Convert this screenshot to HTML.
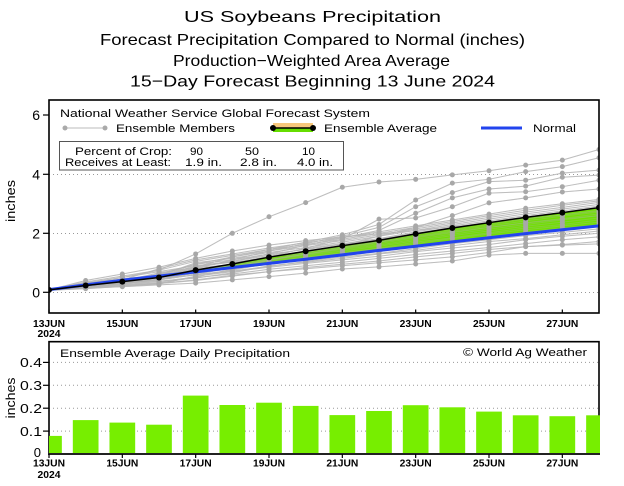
<!DOCTYPE html>
<html><head><meta charset="utf-8">
<style>html,body{margin:0;padding:0;background:#fff}svg{display:block}text{font-family:"Liberation Sans",sans-serif;fill:#000}</style>
</head>
<body>
<svg width="624" height="486" viewBox="0 0 624 486" xmlns="http://www.w3.org/2000/svg" xmlns:xlink="http://www.w3.org/1999/xlink">
<rect width="624" height="486" fill="#fff"/>
<defs>
<clipPath id="cp"><rect x="49" y="100" width="550" height="213"/></clipPath>
<marker id="gd" markerUnits="userSpaceOnUse" markerWidth="0.2" markerHeight="0.3" refX="0.1" refY="0.15" overflow="visible">
<ellipse cx="0.1" cy="0.15" rx="0.0682" ry="0.0847" fill="#a8a8a8"/>
</marker>
<marker id="bd" markerUnits="userSpaceOnUse" markerWidth="0.2" markerHeight="0.3" refX="0.1" refY="0.15" overflow="visible">
<ellipse cx="0.1" cy="0.15" rx="0.0818" ry="0.1017" fill="#000"/>
</marker>
</defs>
<!-- Titles -->
<text x="184" y="22" font-size="16" textLength="257" lengthAdjust="spacingAndGlyphs">US Soybeans Precipitation</text>
<text x="100" y="45" font-size="16" textLength="425" lengthAdjust="spacingAndGlyphs">Forecast Precipitation Compared to Normal (inches)</text>
<text x="173" y="66" font-size="16" textLength="277" lengthAdjust="spacingAndGlyphs">Production−Weighted Area Average</text>
<text x="130" y="86.5" font-size="16" textLength="365" lengthAdjust="spacingAndGlyphs">15−Day Forecast Beginning 13 June 2024</text>

<!-- top chart grid -->
<g stroke="#999" stroke-width="1" stroke-dasharray="1,3">
<line x1="49" y1="292.5" x2="599" y2="292.5"/>
<line x1="49" y1="233.5" x2="599" y2="233.5"/>
<line x1="49" y1="174.5" x2="599" y2="174.5"/>
</g>

<g clip-path="url(#cp)">
<g transform="matrix(36.667,0,0,-29.5,49,292.3)">
<!-- member lines -->
<g fill="none" stroke="#c4c4c4" stroke-width="1">
<g id="ml">
<polyline vector-effect="non-scaling-stroke" points="0,0.08 1,0.3 2,0.5 3,0.75 4,1.3 5,2.0 6,2.56 7,3.04 8,3.56 9,3.74 10,3.83 11,3.98 12,4.12 13,4.31 14,4.48 15,4.84"/>
<polyline vector-effect="non-scaling-stroke" points="0,0.08 1,0.25 2,0.4 3,0.6 4,0.95 5,1.2 6,1.45 7,1.7 8,1.95 9,2.3 10,3.13 11,3.7 12,3.83 13,4.09 14,4.26 15,4.56"/>
<polyline vector-effect="non-scaling-stroke" points="0,0.08 1,0.2 2,0.35 3,0.5 4,0.8 5,1.1 6,1.4 7,1.65 8,1.9 9,2.2 10,2.9 11,3.38 12,3.75 13,3.8 14,4.04 15,4.14"/>
<polyline vector-effect="non-scaling-stroke" points="0,0.08 1,0.22 2,0.38 3,0.55 4,0.85 5,1.05 6,1.3 7,1.6 8,1.85 9,2.1 10,2.68 11,3.2 12,3.5 13,3.6 14,3.9 15,3.97"/>
<polyline vector-effect="non-scaling-stroke" points="0,0.08 1,0.2 2,0.32 3,0.45 4,0.7 5,0.95 6,1.2 7,1.5 8,1.8 9,2.48 10,2.52 11,2.9 12,3.36 13,3.41 14,3.58 15,3.8"/>
<polyline vector-effect="non-scaling-stroke" points="0,0.08 1,0.18 2,0.3 3,0.42 4,0.6 5,0.85 6,1.1 7,1.35 8,1.6 9,1.9 10,2.2 11,2.6 12,3.03 13,3.2 14,3.4 15,3.5"/>
<polyline vector-effect="non-scaling-stroke" points="0,0.07 1,0.14 2,0.19 3,0.25 4,0.31 5,0.42 6,0.53 7,0.65 8,0.79 9,0.86 10,0.96 11,1.06 12,1.26 13,1.32 14,1.32 15,1.32"/>
<polyline vector-effect="non-scaling-stroke" points="0,0.08 1,0.16 2,0.22 3,0.3 4,0.4 5,0.55 6,0.7 7,0.8 8,0.9 9,1.0 10,1.1 11,1.2 12,1.35 13,1.55 14,1.6 15,1.64"/>
<polyline vector-effect="non-scaling-stroke" points="0,0.07 1,0.14 2,0.22 3,0.3 4,0.42 5,0.58 6,0.7 7,0.84 8,0.95 9,1.06 10,1.2 11,1.32 12,1.45 13,1.55 14,1.62 15,1.72"/>
<polyline vector-effect="non-scaling-stroke" points="0,0.08 1,0.18 2,0.25 3,0.32 4,0.5 5,0.62 6,0.78 7,0.9 8,1.02 9,1.15 10,1.28 11,1.4 12,1.52 13,1.65 14,1.78 15,1.88"/>
<polyline vector-effect="non-scaling-stroke" points="0,0.07 1,0.12 2,0.2 3,0.28 4,0.55 5,0.7 6,0.85 7,0.98 8,1.1 9,1.22 10,1.38 11,1.5 12,1.62 13,1.78 14,1.9 15,2.0"/>
<polyline vector-effect="non-scaling-stroke" points="0,0.09 1,0.2 2,0.3 3,0.38 4,0.48 5,0.66 6,0.9 7,1.02 8,1.15 9,1.3 10,1.42 11,1.58 12,1.72 13,1.82 14,1.95 15,2.08"/>
<polyline vector-effect="non-scaling-stroke" points="0,0.08 1,0.22 2,0.34 3,0.42 4,0.6 5,0.72 6,0.88 7,1.05 8,1.2 9,1.32 10,1.48 11,1.65 12,1.78 13,1.92 14,2.03 15,2.15"/>
<polyline vector-effect="non-scaling-stroke" points="0,0.07 1,0.17 2,0.28 3,0.45 4,0.65 5,0.8 6,0.95 7,1.1 8,1.24 9,1.38 10,1.55 11,1.7 12,1.85 13,2.0 14,2.1 15,2.25"/>
<polyline vector-effect="non-scaling-stroke" points="0,0.08 1,0.25 2,0.38 3,0.48 4,0.58 5,0.75 6,0.98 7,1.12 8,1.28 9,1.42 10,1.6 11,1.75 12,1.9 13,2.05 14,2.18 15,2.3"/>
<polyline vector-effect="non-scaling-stroke" points="0,0.08 1,0.2 2,0.32 3,0.5 4,0.7 5,0.85 6,1.0 7,1.18 8,1.32 9,1.48 10,1.65 11,1.82 12,1.98 13,2.12 14,2.25 15,2.38"/>
<polyline vector-effect="non-scaling-stroke" points="0,0.09 1,0.28 2,0.42 3,0.55 4,0.78 5,0.9 6,1.05 7,1.2 8,1.35 9,1.5 10,1.7 11,1.85 12,2.02 13,2.18 14,2.3 15,2.45"/>
<polyline vector-effect="non-scaling-stroke" points="0,0.07 1,0.15 2,0.3 3,0.42 4,0.68 5,0.88 6,1.08 7,1.25 8,1.4 9,1.56 10,1.75 11,1.92 12,2.08 13,2.24 14,2.38 15,2.52"/>
<polyline vector-effect="non-scaling-stroke" points="0,0.08 1,0.24 2,0.36 3,0.52 4,0.82 5,0.95 6,1.12 7,1.28 8,1.45 9,1.6 10,1.8 11,1.97 12,2.14 13,2.3 14,2.45 15,2.6"/>
<polyline vector-effect="non-scaling-stroke" points="0,0.08 1,0.3 2,0.45 3,0.6 4,0.72 5,0.92 6,1.1 7,1.3 8,1.48 9,1.65 10,1.85 11,2.02 12,2.2 13,2.36 14,2.5 15,2.66"/>
<polyline vector-effect="non-scaling-stroke" points="0,0.09 1,0.21 2,0.35 3,0.58 4,0.88 5,1.02 6,1.18 7,1.35 8,1.52 9,1.7 10,1.9 11,2.08 12,2.25 13,2.42 14,2.58 15,2.72"/>
<polyline vector-effect="non-scaling-stroke" points="0,0.08 1,0.26 2,0.4 3,0.5 4,0.64 5,0.98 6,1.22 7,1.38 8,1.55 9,1.72 10,1.95 11,2.12 12,2.3 13,2.48 14,2.63 15,2.78"/>
<polyline vector-effect="non-scaling-stroke" points="0,0.07 1,0.19 2,0.33 3,0.62 4,0.95 5,1.1 6,1.3 7,1.45 8,1.62 9,1.8 10,2.0 11,2.2 12,2.38 13,2.55 14,2.7 15,2.85"/>
<polyline vector-effect="non-scaling-stroke" points="0,0.08 1,0.32 2,0.5 3,0.7 4,0.9 5,1.05 6,1.25 7,1.48 8,1.65 9,1.82 10,2.05 11,2.25 12,2.42 13,2.6 14,2.76 15,2.92"/>
<polyline vector-effect="non-scaling-stroke" points="0,0.09 1,0.27 2,0.44 3,0.56 4,1.0 5,1.15 6,1.35 7,1.52 8,1.7 9,1.9 10,2.1 11,2.3 12,2.48 13,2.66 14,2.82 15,2.98"/>
<polyline vector-effect="non-scaling-stroke" points="0,0.08 1,0.22 2,0.38 3,0.66 4,0.85 5,1.2 6,1.4 7,1.58 8,1.75 9,1.95 10,2.15 11,2.35 12,2.54 13,2.72 14,2.88 15,3.05"/>
<polyline vector-effect="non-scaling-stroke" points="0,0.08 1,0.35 2,0.55 3,0.75 4,1.05 5,1.25 6,1.45 7,1.62 8,1.8 9,2.0 10,2.2 11,2.4 12,2.6 13,2.78 14,2.95 15,3.1"/>
<polyline vector-effect="non-scaling-stroke" points="0,0.07 1,0.24 2,0.42 3,0.8 4,1.1 5,1.3 6,1.5 7,1.68 8,1.85 9,2.05 10,2.25 11,2.45 12,2.65 13,2.85 14,3.0 15,3.15"/>
<polyline vector-effect="non-scaling-stroke" points="0,0.08 1,0.4 2,0.62 3,0.85 4,1.15 5,1.4 6,1.6 7,1.75 8,1.88 9,1.98 10,2.1 11,2.22 12,2.35 13,2.5 14,2.62 15,2.75"/>
<polyline vector-effect="non-scaling-stroke" points="0,0.08 1,0.16 2,0.26 3,0.36 4,0.52 5,0.78 6,1.08 7,1.3 8,1.5 9,1.7 10,1.88 11,2.05 12,2.2 13,2.35 14,2.48 15,2.6"/>
</g>
</g>
<!-- fill between avg and normal -->
<polygon fill="#70e000" points="0,0.08 1,0.23 2,0.36 3,0.5 4,0.75 5,0.96 6,1.19 7,1.39 8,1.58 9,1.76 10,1.98 11,2.18 12,2.36 13,2.54 14,2.70 15,2.87 15,2.25 14,2.12 13,1.99 12,1.85 11,1.71 10,1.56 9,1.42 8,1.27 7,1.12 6,0.98 5,0.84 4,0.69 3,0.55 2,0.41 1,0.25 0,0.09"/>
<!-- faint lines over fill -->
<use href="#ml" xlink:href="#ml" fill="none" stroke="#b0b0b0" stroke-width="1" stroke-opacity="0.3"/>
<!-- member dots -->
<use href="#ml" xlink:href="#ml" fill="none" stroke="none" marker-start="url(#gd)" marker-mid="url(#gd)" marker-end="url(#gd)"/>
<!-- normal -->
<polyline fill="none" stroke="#2244ee" stroke-width="3" vector-effect="non-scaling-stroke" points="0,0.09 1,0.25 2,0.41 3,0.55 4,0.69 5,0.84 6,0.98 7,1.12 8,1.27 9,1.42 10,1.56 11,1.71 12,1.85 13,1.99 14,2.12 15,2.25"/>
<!-- average -->
<polyline fill="none" stroke="#000" stroke-width="1.5" vector-effect="non-scaling-stroke" marker-start="url(#bd)" marker-mid="url(#bd)" marker-end="url(#bd)" points="0,0.08 1,0.23 2,0.36 3,0.5 4,0.75 5,0.96 6,1.19 7,1.39 8,1.58 9,1.76 10,1.98 11,2.18 12,2.36 13,2.54 14,2.70 15,2.87"/>
</g>
</g>

<!-- top frame -->
<rect x="49" y="100" width="550" height="213" fill="none" stroke="#000" stroke-width="1.6"/>
<g stroke="#000" stroke-width="1.2">
<line x1="43" y1="115" x2="49" y2="115"/>
<line x1="43" y1="174.3" x2="49" y2="174.3"/>
<line x1="43" y1="233.3" x2="49" y2="233.3"/>
<line x1="43" y1="292.3" x2="49" y2="292.3"/>
<line x1="49" y1="309.5" x2="49" y2="313"/>
<line x1="122.33" y1="309.5" x2="122.33" y2="313"/>
<line x1="195.67" y1="309.5" x2="195.67" y2="313"/>
<line x1="269" y1="309.5" x2="269" y2="313"/>
<line x1="342.33" y1="309.5" x2="342.33" y2="313"/>
<line x1="415.67" y1="309.5" x2="415.67" y2="313"/>
<line x1="489" y1="309.5" x2="489" y2="313"/>
<line x1="562.33" y1="309.5" x2="562.33" y2="313"/>
</g>
<g font-size="14" text-anchor="end">
<text x="40" y="120">6</text>
<text x="40" y="179.3">4</text>
<text x="40" y="238.3">2</text>
<text x="40" y="297.3">0</text>
</g>
<text transform="translate(15,201) rotate(-90)" font-size="13" text-anchor="middle" textLength="42" lengthAdjust="spacingAndGlyphs">inches</text>

<!-- legend top -->
<text x="60" y="117" font-size="11" textLength="310" lengthAdjust="spacingAndGlyphs">National Weather Service Global Forecast System</text>
<line x1="65" y1="128" x2="105" y2="128" stroke="#bbb" stroke-width="1"/>
<circle cx="65" cy="128" r="2.5" fill="#aaa"/><circle cx="105" cy="128" r="2.5" fill="#aaa"/>
<text x="116" y="132" font-size="11" textLength="119" lengthAdjust="spacingAndGlyphs">Ensemble Members</text>
<rect x="273" y="123" width="40" height="5" fill="#f7c87c"/>
<rect x="273" y="128" width="40" height="4" fill="#66dd00"/>
<line x1="273" y1="128" x2="313" y2="128" stroke="#000" stroke-width="1.5"/>
<circle cx="273" cy="128" r="3" fill="#000"/><circle cx="313" cy="128" r="3" fill="#000"/>
<text x="324" y="132" font-size="11" textLength="113" lengthAdjust="spacingAndGlyphs">Ensemble Average</text>
<line x1="481" y1="128" x2="522" y2="128" stroke="#2244ee" stroke-width="3"/>
<text x="533" y="132" font-size="11" textLength="43" lengthAdjust="spacingAndGlyphs">Normal</text>

<rect x="59.5" y="141.5" width="284" height="28.5" fill="#fff" stroke="#555" stroke-width="1"/>
<g font-size="11">
<text x="75" y="155" textLength="97" lengthAdjust="spacingAndGlyphs">Percent of Crop:</text>
<text x="190" y="155" textLength="13" lengthAdjust="spacingAndGlyphs">90</text>
<text x="245" y="155" textLength="14" lengthAdjust="spacingAndGlyphs">50</text>
<text x="302" y="155" textLength="13" lengthAdjust="spacingAndGlyphs">10</text>
<text x="65" y="166" textLength="106" lengthAdjust="spacingAndGlyphs">Receives at Least:</text>
<text x="185" y="166" textLength="37" lengthAdjust="spacingAndGlyphs">1.9 in.</text>
<text x="240" y="166" textLength="37" lengthAdjust="spacingAndGlyphs">2.8 in.</text>
<text x="297" y="166" textLength="36" lengthAdjust="spacingAndGlyphs">4.0 in.</text>
</g>

<!-- x labels top -->
<g font-size="10.5" font-weight="bold" text-anchor="middle">
<text x="49" y="327" textLength="32" lengthAdjust="spacingAndGlyphs">13JUN</text>
<text x="122.33" y="327" textLength="32" lengthAdjust="spacingAndGlyphs">15JUN</text>
<text x="195.67" y="327" textLength="32" lengthAdjust="spacingAndGlyphs">17JUN</text>
<text x="269" y="327" textLength="32" lengthAdjust="spacingAndGlyphs">19JUN</text>
<text x="342.33" y="327" textLength="32" lengthAdjust="spacingAndGlyphs">21JUN</text>
<text x="415.67" y="327" textLength="32" lengthAdjust="spacingAndGlyphs">23JUN</text>
<text x="489" y="327" textLength="32" lengthAdjust="spacingAndGlyphs">25JUN</text>
<text x="562.33" y="327" textLength="32" lengthAdjust="spacingAndGlyphs">27JUN</text>
<text x="49" y="337" textLength="23" lengthAdjust="spacingAndGlyphs">2024</text>
</g>

<!-- bottom chart -->
<g stroke="#999" stroke-width="1" stroke-dasharray="1,3">
<line x1="49" y1="362.4" x2="599" y2="362.4"/>
<line x1="49" y1="385.3" x2="599" y2="385.3"/>
<line x1="49" y1="408.2" x2="599" y2="408.2"/>
<line x1="49" y1="431.1" x2="599" y2="431.1"/>
</g>
<path d="M49,454 L49,341.7 L599,341.7 L599,454" fill="none" stroke="#000" stroke-width="1.6"/>
<g fill="#77ee00">
<rect x="49" y="435.9" width="12.85" height="18.1"/>
<rect x="72.82" y="420.1" width="25.7" height="33.9"/>
<rect x="109.48" y="422.6" width="25.7" height="31.4"/>
<rect x="146.15" y="424.7" width="25.7" height="29.3"/>
<rect x="182.82" y="395.6" width="25.7" height="58.4"/>
<rect x="219.48" y="405.0" width="25.7" height="49.0"/>
<rect x="256.15" y="402.7" width="25.7" height="51.3"/>
<rect x="292.82" y="405.9" width="25.7" height="48.1"/>
<rect x="329.48" y="415.1" width="25.7" height="38.9"/>
<rect x="366.15" y="411.0" width="25.7" height="43.0"/>
<rect x="402.82" y="405.2" width="25.7" height="48.8"/>
<rect x="439.48" y="407.3" width="25.7" height="46.7"/>
<rect x="476.15" y="411.6" width="25.7" height="42.4"/>
<rect x="512.82" y="415.3" width="25.7" height="38.7"/>
<rect x="549.48" y="416.2" width="25.7" height="37.8"/>
<rect x="586.15" y="415.3" width="13.85" height="38.7"/>
</g>
<line x1="48" y1="454" x2="600" y2="454" stroke="#222" stroke-width="2"/>
<g stroke="#000" stroke-width="1.2">
<line x1="43" y1="362.4" x2="49" y2="362.4"/>
<line x1="43" y1="385.3" x2="49" y2="385.3"/>
<line x1="43" y1="408.2" x2="49" y2="408.2"/>
<line x1="43" y1="431.1" x2="49" y2="431.1"/>
<line x1="49" y1="454" x2="49" y2="458"/>
<line x1="122.33" y1="454" x2="122.33" y2="458"/>
<line x1="195.67" y1="454" x2="195.67" y2="458"/>
<line x1="269" y1="454" x2="269" y2="458"/>
<line x1="342.33" y1="454" x2="342.33" y2="458"/>
<line x1="415.67" y1="454" x2="415.67" y2="458"/>
<line x1="489" y1="454" x2="489" y2="458"/>
<line x1="562.33" y1="454" x2="562.33" y2="458"/>
</g>
<g font-size="13" text-anchor="end">
<text x="42" y="367" textLength="22" lengthAdjust="spacingAndGlyphs">0.4</text>
<text x="42" y="390" textLength="22" lengthAdjust="spacingAndGlyphs">0.3</text>
<text x="42" y="413" textLength="22" lengthAdjust="spacingAndGlyphs">0.2</text>
<text x="42" y="436" textLength="22" lengthAdjust="spacingAndGlyphs">0.1</text>
<text x="41" y="457">0</text>
</g>
<text transform="translate(15,398) rotate(-90)" font-size="13" text-anchor="middle" textLength="41" lengthAdjust="spacingAndGlyphs">inches</text>
<text x="60" y="357" font-size="11" textLength="230" lengthAdjust="spacingAndGlyphs">Ensemble Average Daily Precipitation</text>
<text x="463" y="356" font-size="11" textLength="124" lengthAdjust="spacingAndGlyphs">© World Ag Weather</text>
<g font-size="10.5" font-weight="bold" text-anchor="middle">
<text x="49" y="466.5" textLength="32" lengthAdjust="spacingAndGlyphs">13JUN</text>
<text x="122.33" y="466.5" textLength="32" lengthAdjust="spacingAndGlyphs">15JUN</text>
<text x="195.67" y="466.5" textLength="32" lengthAdjust="spacingAndGlyphs">17JUN</text>
<text x="269" y="466.5" textLength="32" lengthAdjust="spacingAndGlyphs">19JUN</text>
<text x="342.33" y="466.5" textLength="32" lengthAdjust="spacingAndGlyphs">21JUN</text>
<text x="415.67" y="466.5" textLength="32" lengthAdjust="spacingAndGlyphs">23JUN</text>
<text x="489" y="466.5" textLength="32" lengthAdjust="spacingAndGlyphs">25JUN</text>
<text x="562.33" y="466.5" textLength="32" lengthAdjust="spacingAndGlyphs">27JUN</text>
<text x="49" y="478" textLength="23" lengthAdjust="spacingAndGlyphs">2024</text>
</g>
</svg>
</body></html>
